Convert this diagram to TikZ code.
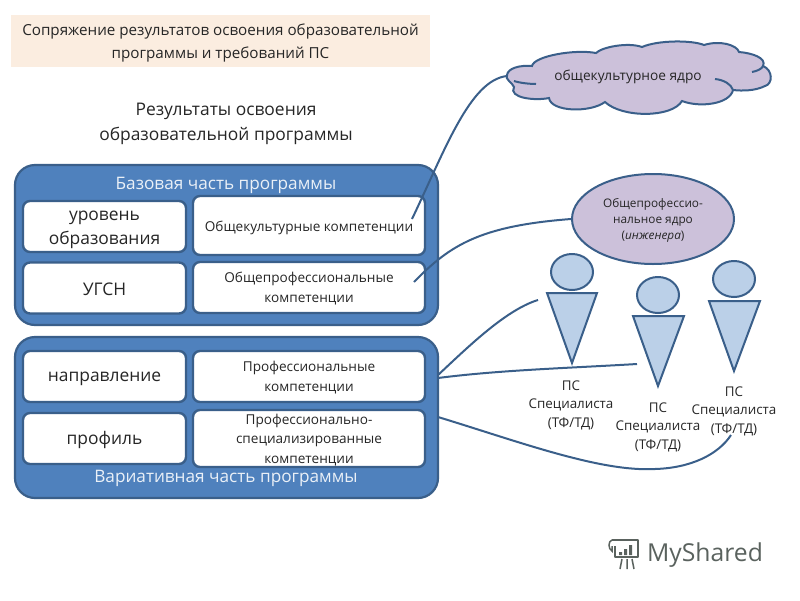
\documentclass[tikz,border=0pt]{standalone}
\usepackage{fontspec}
\setmainfont{Open Sans}
\definecolor{panel}{HTML}{4F81BD}
\definecolor{edge}{HTML}{3A5F8A}
\definecolor{lilac}{HTML}{CCC1DA}
\definecolor{tri}{HTML}{BBD0E8}
\definecolor{peach}{HTML}{FBEDE0}
\definecolor{ink}{HTML}{262626}
\definecolor{logo}{HTML}{5A625E}
\tikzset{
  panelbox/.style={draw=edge,line width=2.2pt,fill=panel,rounded corners=20pt,inner sep=0pt},
  whitebox/.style={draw=edge,line width=2.4pt,fill=white,rounded corners=7pt,inner sep=0pt},
  bigtxt/.style={align=center,text=ink,yshift=-1.5pt,font=\fontsize{17.4}{24}\selectfont},
  smalltxt/.style={align=center,text=ink,yshift=-1.2pt,font=\fontsize{13.6}{19.5}\selectfont},
  paneltxt/.style={text=white!88!panel,font=\fontsize{17.2}{20}\selectfont},
  link/.style={draw=edge,line width=2pt},
  shape line/.style={draw=edge,line width=2pt},
  head/.style={ellipse,shape line,fill=tri,minimum width=42pt,minimum height=36pt,inner sep=0pt},
  pslabel/.style={align=center,text=ink,font=\fontsize{13.4}{18.5}\selectfont},
  logoline/.style={draw=logo,line width=1.5pt}
}
\usetikzlibrary{shapes.geometric}
\begin{document}
\begin{tikzpicture}[x=1pt,y=-1pt]
\useasboundingbox (0,0) rectangle (800,600);
% title
\node[fill=peach,minimum width=419pt,minimum height=52pt,inner sep=0pt] (title) at (220.5,41) {};
\node[align=center,text=ink,font=\fontsize{15.2}{23.5}\selectfont] (titlet) at (220.5,43) {Сопряжение результатов освоения образовательной\\программы и требований ПС};
\node[align=center,text=ink,font=\fontsize{17.4}{24.5}\selectfont] (head1) at (226,124) {Результаты освоения\\образовательной программы};
% panels
\node[panelbox,minimum width=423pt,minimum height=160pt] (base) at (226.5,245) {};
\node[panelbox,minimum width=423pt,minimum height=161pt] (vari) at (226.5,417.5) {};
\node[paneltxt] (baset) at (226,185) {Базовая часть программы};
\node[paneltxt] (varit) at (226,478) {Вариативная часть программы};
% inner boxes
\node[whitebox,minimum width=163pt,minimum height=51pt,label={[bigtxt,yshift=-1.5pt]center:{уровень\\образования}}] (lev) at (104.5,226.5) {};
\node[whitebox,minimum width=163pt,minimum height=51pt,label={[bigtxt]center:УГСН}] (ugsn) at (104.5,288) {};
\node[whitebox,minimum width=163pt,minimum height=51pt,label={[bigtxt,yshift=-1pt]center:направление}] (napr) at (104.5,376.5) {};
\node[whitebox,minimum width=163pt,minimum height=51pt,label={[bigtxt]center:профиль}] (prof) at (104.5,438.5) {};
\node[whitebox,minimum width=232pt,minimum height=59pt,label={[smalltxt,yshift=-0.8pt]center:Общекультурные компетенции}] (ok) at (309,225.5) {};
\node[whitebox,minimum width=232pt,minimum height=51pt,label={[smalltxt]center:{Общепрофессиональные\\компетенции}}] (opk) at (309,287.5) {};
\node[whitebox,minimum width=232pt,minimum height=51pt,label={[smalltxt]center:{Профессиональные\\компетенции}}] (pk) at (309,376.5) {};
\node[whitebox,minimum width=232pt,minimum height=57pt,label={[smalltxt]center:{Профессионально-\\специализированные\\компетенции}}] (psk) at (309,438.5) {};
% cloud
\draw[shape line,fill=lilac] (507,75)
  .. controls (508,68) and (520,65) .. (532,66)
  .. controls (534,56) and (575,49) .. (596,53)
  .. controls (602,47) and (628,42) .. (642,47)
  .. controls (658,40) and (692,40) .. (704,45)
  .. controls (720,40) and (737,45) .. (739,52)
  .. controls (752,53) and (767,58) .. (763,66)
  .. controls (773,70) and (773,84) .. (765,86)
  .. controls (755,91) and (742,91) .. (733,90)
  .. controls (730,104) and (700,108) .. (682,101)
  .. controls (672,118) and (622,118) .. (605,102)
  .. controls (590,113) and (551,112) .. (549,98)
  .. controls (535,101) and (508,98) .. (514,87)
  .. controls (512,82) and (505,80) .. (507,75) -- cycle;
\draw[shape line] (514,81) .. controls (520,83) and (530,84) .. (536,84);
\draw[shape line] (715,79) .. controls (724,80) and (731,84) .. (733,90);
\draw[shape line] (752,72) .. controls (757,71) and (762,69) .. (763,66);
\node[text=ink,font=\fontsize{13.7}{15}\selectfont] (cloudt) at (628,77) {общекультурное ядро};
\coordinate (cloudL) at (507,76);
% ellipse
\node[ellipse,shape line,fill=lilac,minimum width=162pt,minimum height=90pt,inner sep=0pt] (core) at (653,219) {};
\node[align=center,text=ink,font=\fontsize{11.8}{16}\selectfont] (coret) at (653,220.5) {Общепрофессио-\\нальное ядро\\(\textit{инженера})};
% connectors
\coordinate (okEnd) at (412,219);
\coordinate (opkEnd) at (414,282);
\coordinate (pkA) at (438,375);
\coordinate (pkB) at (438,378);
\coordinate (pskA) at (438,417);
\coordinate (p1End) at (538,300);
\coordinate (p2End) at (637,364);
\coordinate (p3End) at (731,435);
\draw[link] (okEnd) .. controls (445,150) and (470,80) .. (cloudL);
\draw[link] (opkEnd) .. controls (450,245) and (480,226) .. (core.west);
\draw[link] (pkA) .. controls (465,350) and (505,310) .. (p1End);
\draw[link] (pkB) .. controls (500,370) and (570,368) .. (p2End);
% persons
\node[head] (h1) at (572,272) {};
\node[head] (h2) at (658,295) {};
\node[head] (h3) at (734,279) {};
\draw[shape line,fill=tri,line join=miter] (547,293) -- (597,293) -- (572,363) -- cycle;
\draw[shape line,fill=tri,line join=miter] (633,316) -- (684,316) -- (658,386) -- cycle;
\draw[shape line,fill=tri,line join=miter] (709,301) -- (760,301) -- (734,371) -- cycle;
\node[pslabel] (ps1) at (571,405) {ПС\\Специалиста\\(ТФ/ТД)};
\node[pslabel] (ps2) at (658,427) {ПС\\Специалиста\\(ТФ/ТД)};
\node[pslabel] (ps3) at (734,411) {ПС\\Специалиста\\(ТФ/ТД)};
\draw[link] (pskA) .. controls (520,442) and (600,472) .. (655,469) .. controls (690,468) and (718,455) .. (p3End);
% logo
\draw[logoline,line join=round] (612,540) -- (638,540) -- (638,557) -- (615,557) -- (615,546);
\draw[logoline] (612,540) .. controls (608,541) and (608,549) .. (612,551) -- (612,546);
\fill[logo] (619,552) rectangle (622,555) (624,549) rectangle (627,555) (629,545) rectangle (632,555);
\draw[logoline] (622,559) -- (620,569) (627,559) -- (627,569) (632,559) -- (634,569);
\node[text=logo,font=\fontsize{24.7}{26}\selectfont,inner sep=0pt] (brand) at (705,555) {MyShared};
\end{tikzpicture}
\end{document}
